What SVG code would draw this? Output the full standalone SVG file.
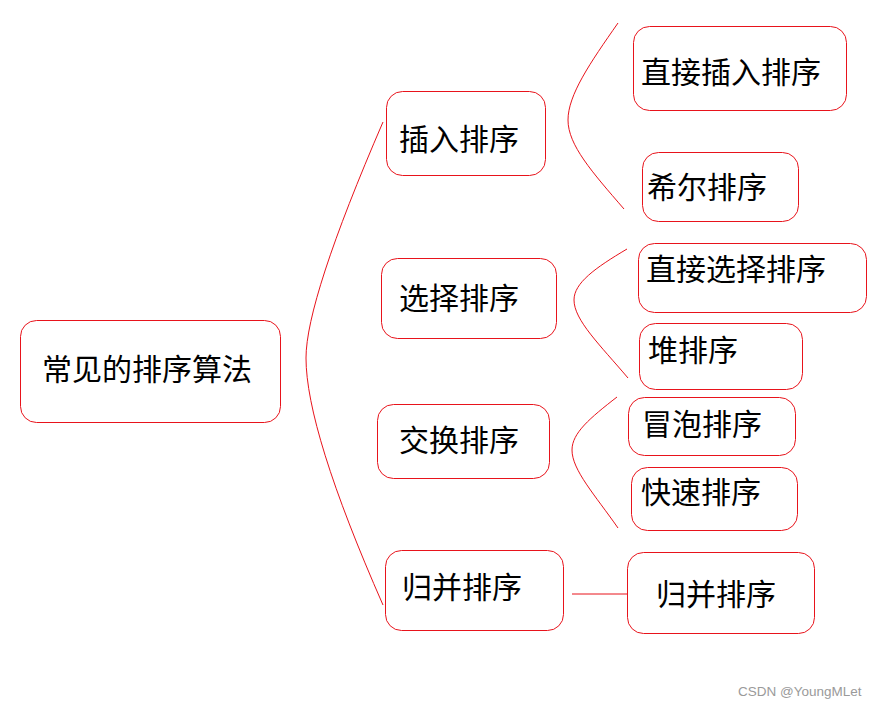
<svg xmlns="http://www.w3.org/2000/svg" width="881" height="708" viewBox="0 0 881 708">
<style>
.box{fill:#fff;stroke:#e8131b;stroke-width:1}
.lbl{font-family:"Noto Sans CJK SC","Noto Sans",sans-serif;font-size:30px;fill:#000}
.con{fill:none;stroke:#e8131b;stroke-width:1}
.wm{font-family:"Liberation Sans",Arial,sans-serif;font-size:13.5px;fill:#9a9a9a}
</style>
<rect width="881" height="708" fill="#fff"/>
<g id="connectors">
<path class="con" d="M383,122 Q306,300 306,358 Q306,430 383,605"/>
<path class="con" d="M618,23 C590,63 568,95 568,120 C568,145 592,172 624,209"/>
<path class="con" d="M627,249 C595,268 574,283 574,300 C574,320 600,345 628,378"/>
<path class="con" d="M617,397 C590,418 572,433 572,450 C572,470 595,495 618,528"/>
<path class="con" d="M572,594 L629,594"/>
</g>
<g id="root"><rect class="box" x="20.5" y="320.5" width="260" height="102" rx="16"/><text class="lbl" x="42" y="380">常见的排序算法</text></g>
<g id="insert"><rect class="box" x="386.5" y="91.5" width="159" height="84" rx="16"/><text class="lbl" x="399" y="150">插入排序</text></g>
<g id="select"><rect class="box" x="381.5" y="258.5" width="175" height="80" rx="16"/><text class="lbl" x="399" y="309">选择排序</text></g>
<g id="swap"><rect class="box" x="377.5" y="404.5" width="172" height="74" rx="16"/><text class="lbl" x="399" y="451">交换排序</text></g>
<g id="merge"><rect class="box" x="385.5" y="550.5" width="178" height="80" rx="16"/><text class="lbl" x="402" y="598">归并排序</text></g>
<g id="direct-insert"><rect class="box" x="633.5" y="26.5" width="213" height="84" rx="16"/><text class="lbl" x="641" y="83">直接插入排序</text></g>
<g id="shell"><rect class="box" x="642.5" y="152.5" width="156" height="69" rx="16"/><text class="lbl" x="647" y="198">希尔排序</text></g>
<g id="direct-select"><rect class="box" x="638.5" y="243.5" width="228" height="69" rx="16"/><text class="lbl" x="646" y="280">直接选择排序</text></g>
<g id="heap"><rect class="box" x="639.5" y="323.5" width="163" height="66" rx="16"/><text class="lbl" x="648" y="361">堆排序</text></g>
<g id="bubble"><rect class="box" x="628.5" y="397.5" width="167" height="58" rx="16"/><text class="lbl" x="642" y="435">冒泡排序</text></g>
<g id="quick"><rect class="box" x="631.5" y="467.5" width="166" height="63" rx="16"/><text class="lbl" x="641" y="503">快速排序</text></g>
<g id="merge-leaf"><rect class="box" x="627.5" y="552.5" width="187" height="81" rx="16"/><text class="lbl" x="656" y="605">归并排序</text></g>
<text class="wm" x="738" y="696">CSDN @YoungMLet</text>
</svg>
